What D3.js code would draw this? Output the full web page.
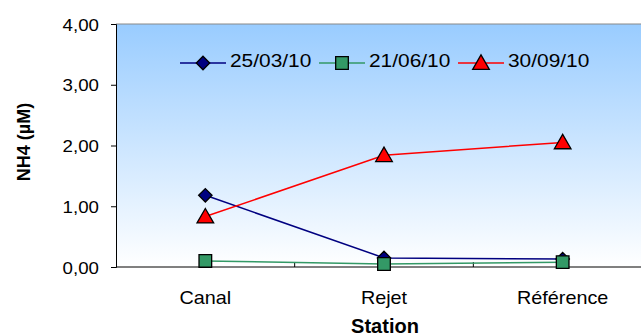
<!DOCTYPE html>
<html>
<head>
<meta charset="utf-8">
<script src="https://cdn.jsdelivr.net/npm/d3@7"></script>
<style>
  body { margin: 0; background: #fff; }
  svg { display: block; font-family: "Liberation Sans", Arial, sans-serif; }
</style>
</head>
<body>
<svg id="chart" width="641" height="336"></svg>
<script>
// chart data
const stations = ["Canal", "Rejet", "Référence"];
const seriesNames = ["25/03/10", "21/06/10", "30/09/10"];
const s1 = [1.18, 0.15, 0.13];
const s2 = [0.10, 0.05, 0.08];
const s3 = [0.83, 1.84, 2.05];
const yTicks = [0, 1, 2, 3, 4];

const width = 641;
const height = 336;
const margin = { top: 24, right: -11, bottom: 69, left: 116 };
const chartWidth = width - margin.left - margin.right;
const chartHeight = height - margin.top - margin.bottom;
const stretch = 1.1; // the original text is a bit wide

const svg = d3.select('#chart');

// background gradient
const defs = svg.append('defs');
const grad = defs.append('linearGradient')
    .attr('id', 'bg')
    .attr('x1', 0).attr('y1', 0).attr('x2', 0).attr('y2', 1);
grad.append('stop').attr('offset', '0%').attr('stop-color', '#99ccff');
grad.append('stop').attr('offset', '100%').attr('stop-color', '#ffffff');

const g = svg.append('g')
    .attr('transform', `translate(${margin.left}, ${margin.top})`);

const xScale = d3.scaleBand()
    .domain(stations)
    .range([0, chartWidth]);

const yScale = d3.scaleLinear()
    .domain([0, 4])
    .range([chartHeight, 0]);

g.append('rect')
    .attr('width', chartWidth)
    .attr('height', chartHeight)
    .attr('fill', 'url(#bg)');

// top border
g.append('line')
    .attr('x1', 0).attr('x2', chartWidth)
    .attr('y1', 0).attr('y2', 0)
    .attr('stroke', '#888').attr('stroke-width', 1);

// Y axis
const yAxis = g.append('g')
    .call(d3.axisLeft(yScale).tickValues(yTicks).tickSize(5)
        .tickFormat(d => d3.format('.2f')(d).replace('.', ',')));
yAxis.select('.domain').attr('stroke', '#000');
yAxis.selectAll('.tick line').attr('stroke', '#000');
yAxis.selectAll('text')
    .attr('x', 0)
    .attr('transform', `translate(-17, 0) scale(${stretch}, 1)`)
    .attr('dy', '0.36em')
    .style('font-size', '17px')
    .style('font-family', '"Liberation Sans", Arial, sans-serif')
    .attr('fill', '#000');

// X axis: ticks at band boundaries pointing inward
const xAxis = g.append('g')
    .attr('transform', `translate(0, ${chartHeight})`);
xAxis.append('line')
    .attr('x1', 0).attr('x2', chartWidth)
    .attr('stroke', '#000');
xAxis.selectAll('.bt')
    .data(stations.slice(1))
    .enter()
    .append('line')
    .attr('x1', d => xScale(d)).attr('x2', d => xScale(d))
    .attr('y1', 0).attr('y2', -5)
    .attr('stroke', '#000');
xAxis.selectAll('.cat')
    .data(stations)
    .enter()
    .append('text')
    .attr('transform', d => `translate(${xScale(d) + xScale.bandwidth() / 2}, 37) scale(${stretch}, 1)`)
    .style('text-anchor', 'middle')
    .style('font-size', '18px')
    .text(d => d);

const diamond = {
    draw(ctx, size) {
        const r = Math.sqrt(size / 2);
        ctx.moveTo(0, -r); ctx.lineTo(r, 0); ctx.lineTo(0, r); ctx.lineTo(-r, 0); ctx.closePath();
    }
};

const series = [
    { name: seriesNames[0], values: s1, color: '#000080', shape: diamond, size: 90, dy: 0 },
    { name: seriesNames[1], values: s2, color: '#339966', shape: d3.symbolSquare, size: 160, dy: 0 },
    { name: seriesNames[2], values: s3, color: '#ff0000', shape: d3.symbolTriangle, size: 120, dy: 1.5 }
];

const cx = i => xScale(stations[i]) + xScale.bandwidth() / 2;

const line = d3.line()
    .x((d, i) => cx(i))
    .y(d => yScale(d));

function marker(sel, s) {
    sel.attr('d', d3.symbol().type(s.shape).size(s.size))
        .attr('fill', s.color)
        .attr('stroke', '#000')
        .attr('stroke-width', 1.3);
}

series.forEach(s => {
    g.append('path')
        .datum(s.values)
        .attr('d', line)
        .attr('fill', 'none')
        .attr('stroke', s.color)
        .attr('stroke-width', 1.5);
});
series.forEach(s => {
    g.selectAll(null)
        .data(s.values)
        .enter()
        .append('path')
        .attr('transform', (d, i) => `translate(${cx(i)}, ${yScale(d) + s.dy})`)
        .call(sel => marker(sel, s));
});

// legend
const legendX = [180, 319, 458];
const legendY = 63;
series.forEach((s, i) => {
    const lg = svg.append('g').attr('transform', `translate(${legendX[i]}, ${legendY})`);
    lg.append('line')
        .attr('x1', 0).attr('x2', 46)
        .attr('stroke', s.color).attr('stroke-width', 1.5);
    lg.append('path')
        .attr('transform', `translate(23, ${s.dy})`)
        .call(sel => marker(sel, s));
    lg.append('text')
        .attr('transform', `translate(50, 4) scale(${stretch}, 1)`)
        .style('font-size', '19px')
        .text(s.name);
});

// axis titles
svg.append('text')
    .attr('transform', 'rotate(-90)')
    .attr('x', -142)
    .attr('y', 30)
    .style('text-anchor', 'middle')
    .style('font-weight', 'bold')
    .style('font-size', '18px')
    .text('NH4 (µM)');

svg.append('text')
    .attr('x', 385)
    .attr('y', 333)
    .style('text-anchor', 'middle')
    .style('font-weight', 'bold')
    .style('font-size', '20px')
    .text('Station');
</script>
</body>
</html>
